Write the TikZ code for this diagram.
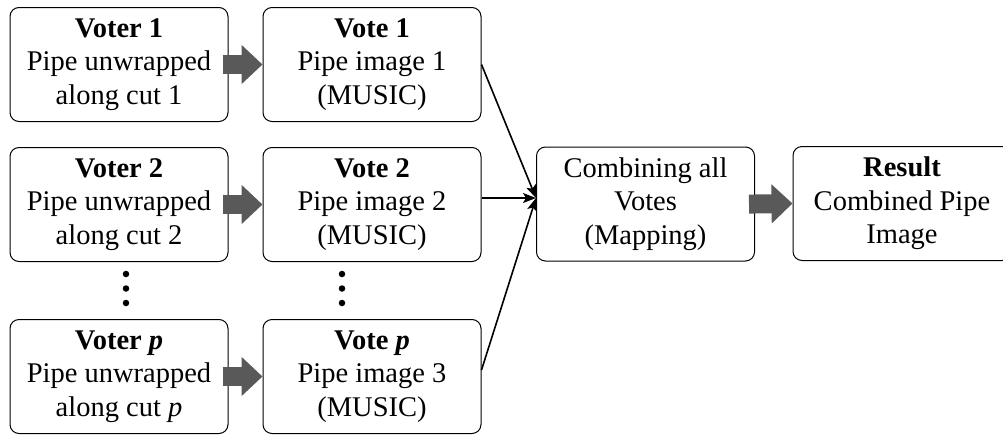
\documentclass[tikz,border=0pt]{standalone}
\usepackage{fontspec}
\setmainfont{Liberation Serif}
\usetikzlibrary{arrows.meta,calc}
\definecolor{fatgray}{HTML}{595959}
\tikzset{
  box/.style={draw=black, line width=1pt, rounded corners=9pt, minimum width=218pt,
    minimum height=114pt, align=center, inner sep=0pt,
    font=\fontsize{28.5}{33.5}\selectfont},
  fat/.style={draw=fatgray, line width=19pt,
    -{Triangle[length=21pt,width=38pt]}, shorten <=-6pt},
  conn/.style={draw=black, line width=1.6pt, -{Stealth[length=13pt,width=10pt,inset=3pt]}},
  dot/.style={circle, fill=black, inner sep=0pt, minimum size=6.5pt}
}
\begin{document}
\begin{tikzpicture}[x=1pt,y=-1pt]
\useasboundingbox (0,0) rectangle (1003,434);
\clip (0,0) rectangle (1003,434);
\node[box] (v1) at (119,64.5) {\textbf{Voter 1}\\Pipe unwrapped\\along cut 1};
\node[box] (w1) at (372,64.5) {\textbf{Vote 1}\\Pipe image 1\\(MUSIC)};
\node[box] (v2) at (119,204.5) {\textbf{Voter 2}\\Pipe unwrapped\\along cut 2};
\node[box] (w2) at (372,204.5) {\textbf{Vote 2}\\Pipe image 2\\(MUSIC)};
\node[box] (vp) at (119,376.5) {\textbf{Voter \textit{p}}\\Pipe unwrapped\\along cut \textit{p}};
\node[box] (wp) at (372,376.5) {\textbf{Vote \textit{p}}\\Pipe image 3\\(MUSIC)};
\node[box] (comb) at (645.5,204) {Combining all\\Votes\\(Mapping)};
\node[box] (res) at (902,203.5) {\textbf{Result}\\Combined Pipe\\Image};
\node[dot] (d1) at (126,274) {};
\node[dot] (d2) at (126,288.5) {};
\node[dot] (d3) at (126,303) {};
\node[dot] (e1) at (342,274) {};
\node[dot] (e2) at (342,288.5) {};
\node[dot] (e3) at (342,303) {};
\coordinate (in) at ($(comb.west)+(0,-6)$);
\draw[fat] (v1.east) -- (w1.west);
\draw[fat] (v2.east) -- (w2.west);
\draw[fat] (vp.east) -- (wp.west);
\draw[fat] (comb.east) -- (res.west);
\draw[conn] (w1.east) -- (in);
\draw[conn] ([yshift=6.5pt]w2.east) -- (in);
\draw[conn] ([yshift=6.5pt]wp.east) -- (in);
\end{tikzpicture}
\end{document}
